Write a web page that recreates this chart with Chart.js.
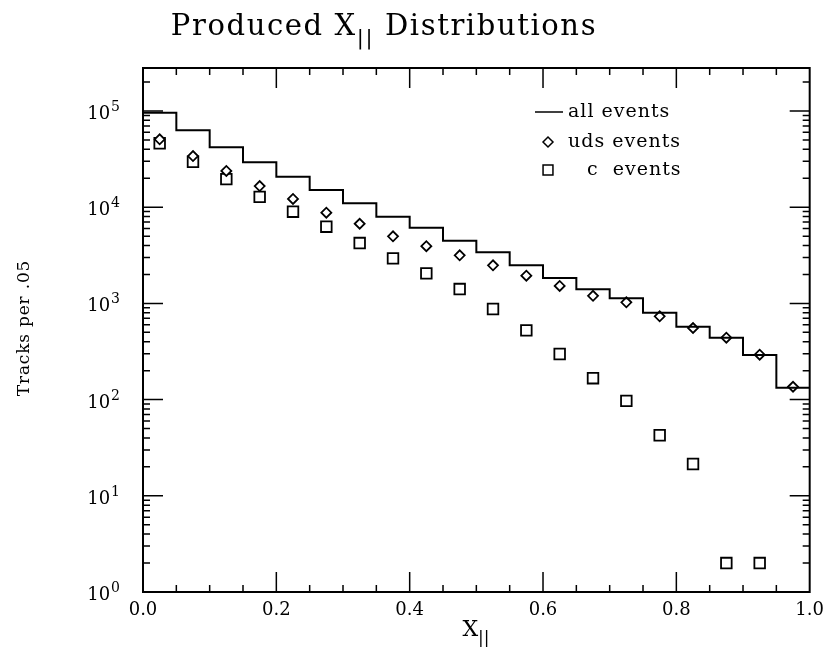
<!DOCTYPE html>
<html>
<head>
<meta charset="utf-8">
<script src="https://cdn.jsdelivr.net/npm/chart.js@4/dist/chart.umd.min.js"></script>
<style>
  html, body { margin: 0; padding: 0; background: #fff; }
  #wrap { width: 832px; height: 654px; }
</style>
</head>
<body>
<div id="wrap"><canvas id="xpar" width="832" height="654"></canvas></div>
<script>
// bin centres of the X|| histogram (bins of width .05)
var binCenters = [0.025, 0.075, 0.125, 0.175, 0.225, 0.275, 0.325, 0.375, 0.425, 0.475,
                  0.525, 0.575, 0.625, 0.675, 0.725, 0.775, 0.825, 0.875, 0.925, 0.975];
var binWidth = 0.05;

// all events (histogram)
var allEvents = [96000, 63000, 42000, 29300, 20700, 15100, 11000, 7970, 6120, 4490,
                 3400, 2490, 1840, 1400, 1130, 800, 572, 440, 291, 133];
// uds events (diamonds)
var udsEvents = [50800, 34000, 23800, 16600, 12200, 8770, 6730, 4980, 3930, 3160,
                 2490, 1940, 1520, 1200, 1026, 734, 555, 440, 293, 136];
// c events (squares)
var cEvents = [46200, 29700, 19600, 12800, 8980, 6270, 4240, 2940, 2050, 1410,
               875, 525, 298, 167, 97, 42.6, 21.4, 2.0, 2.0, null];

var xTickLabels = ['0.0', '0.2', '0.4', '0.6', '0.8', '1.0'];
var yDecades = [0, 1, 2, 3, 4, 5];
var legendLabels = ['all events', 'uds events', 'c  events'];

var serif = '"DejaVu Serif", "Liberation Serif", serif';

// histogram drawn as steps starting at the lower bin edge
var histPoints = binCenters.map(function (x, i) {
    return { x: x - binWidth / 2, y: allEvents[i] };
});
histPoints.push({ x: binCenters[binCenters.length - 1] + binWidth / 2, y: allEvents[allEvents.length - 1] });

var udsPoints = binCenters.map(function (x, i) { return { x: x, y: udsEvents[i] }; });
var cPoints = binCenters.map(function (x, i) { return { x: x, y: cEvents[i] }; });

// frame, inward ticks, y labels, titles and legend
var decorations = {
    id: 'decorations',
    afterDraw: function (chart) {
        var ctx = chart.ctx;
        var a = chart.chartArea;
        var xs = chart.scales.x;
        var ys = chart.scales.y;
        ctx.save();
        ctx.strokeStyle = '#000';
        ctx.fillStyle = '#000';
        ctx.lineWidth = 2;
        ctx.strokeRect(a.left, a.top, a.right - a.left, a.bottom - a.top);

        // x ticks every .05, long ones every .2
        ctx.lineWidth = 1.5;
        for (var i = 1; i < 20; i++) {
            var px = xs.getPixelForValue(i * 0.05);
            var len = (i % 4 === 0) ? 20 : 7;
            ctx.beginPath();
            ctx.moveTo(px, a.bottom); ctx.lineTo(px, a.bottom - len);
            ctx.moveTo(px, a.top); ctx.lineTo(px, a.top + len);
            ctx.stroke();
        }
        // y ticks 1..9 per decade
        yDecades.forEach(function (d) {
            for (var m = 1; m <= 9; m++) {
                var v = m * Math.pow(10, d);
                if (v <= ys.min || v >= ys.max) continue;
                var py = ys.getPixelForValue(v);
                var len = (m === 1) ? 20 : 7;
                ctx.beginPath();
                ctx.moveTo(a.left, py); ctx.lineTo(a.left + len, py);
                ctx.moveTo(a.right, py); ctx.lineTo(a.right - len, py);
                ctx.stroke();
            }
        });

        // y labels 10^n
        ctx.textAlign = 'right';
        ctx.textBaseline = 'alphabetic';
        yDecades.forEach(function (d) {
            var py = ys.getPixelForValue(Math.pow(10, d));
            ctx.font = '14px ' + serif;
            var e = String(d);
            var ew = ctx.measureText(e).width;
            ctx.fillText(e, 120, py);
            ctx.font = '18px ' + serif;
            ctx.fillText('10', 119 - ew, py + 8);
        });

        // text with a subscript part
        function drawSub(parts, x, y, big, small, spacing) {
            ctx.letterSpacing = spacing + 'px';
            var w = 0;
            parts.forEach(function (p) {
                ctx.font = (p.sub ? small : big) + 'px ' + serif;
                w += ctx.measureText(p.t).width;
            });
            var cx = x - w / 2;
            ctx.textAlign = 'left';
            parts.forEach(function (p) {
                ctx.font = (p.sub ? small : big) + 'px ' + serif;
                ctx.fillText(p.t, cx, y + (p.sub ? big * 0.3 : 0));
                cx += ctx.measureText(p.t).width;
            });
            ctx.letterSpacing = '0px';
        }
        drawSub([{ t: 'Produced X' }, { t: '||', sub: true }, { t: ' Distributions' }], 384, 35, 29, 21, 1.6);
        drawSub([{ t: 'X' }, { t: '||', sub: true }], 476, 636, 22, 17, 0);

        // y axis title
        ctx.save();
        ctx.translate(25, 328);
        ctx.rotate(-Math.PI / 2);
        ctx.font = '17px ' + serif;
        ctx.letterSpacing = '0.8px';
        ctx.textAlign = 'center';
        ctx.textBaseline = 'middle';
        ctx.fillText('Tracks per .05', 0, 0);
        ctx.restore();

        // legend
        ctx.font = '19px ' + serif;
        ctx.letterSpacing = '1px';
        ctx.textAlign = 'left';
        ctx.textBaseline = 'middle';
        ctx.lineWidth = 1.5;
        ctx.beginPath();
        ctx.moveTo(535, 112); ctx.lineTo(563, 112);
        ctx.stroke();
        ctx.fillText(legendLabels[0], 568, 112);
        ctx.fillStyle = '#fff';
        Chart.helpers.drawPoint(ctx, { pointStyle: 'rectRot', radius: 5, borderWidth: 1.8 }, 548, 142);
        Chart.helpers.drawPoint(ctx, { pointStyle: 'rect', radius: 7, borderWidth: 1.8 }, 548, 170);
        ctx.fillStyle = '#000';
        ctx.fillText(legendLabels[1], 568, 142);
        ctx.fillText(legendLabels[2], 587, 170);
        ctx.restore();
    }
};

var ctx = document.getElementById('xpar').getContext('2d');
var chart = new Chart(ctx, {
    type: 'line',
    data: {
        datasets: [{
            label: legendLabels[0],
            data: histPoints,
            stepped: 'before',
            borderColor: '#000',
            borderWidth: 2,
            pointRadius: 0,
            fill: false
        }, {
            label: legendLabels[1],
            data: udsPoints,
            showLine: false,
            pointStyle: 'rectRot',
            pointRadius: 5,
            pointBorderWidth: 1.8,
            pointBorderColor: '#000',
            pointBackgroundColor: '#fff'
        }, {
            label: legendLabels[2],
            data: cPoints,
            showLine: false,
            pointStyle: 'rect',
            pointRadius: 7.5,
            pointBorderWidth: 1.8,
            pointBorderColor: '#000',
            pointBackgroundColor: '#fff'
        }]
    },
    options: {
        responsive: false,
        animation: false,
        devicePixelRatio: 1,
        layout: { padding: { left: 0, right: 14, top: 68, bottom: 0 } },
        plugins: {
            legend: { display: false },
            title: { display: false },
            tooltip: { enabled: false }
        },
        scales: {
            x: {
                type: 'linear',
                min: 0,
                max: 1,
                grid: { display: false, drawTicks: false },
                border: { display: false },
                ticks: {
                    stepSize: 0.2,
                    padding: 8,
                    color: '#000',
                    font: { family: serif, size: 18 },
                    callback: function (v, i) { return xTickLabels[i]; }
                },
                afterFit: function (s) { s.height = 62; }
            },
            y: {
                type: 'logarithmic',
                min: 1,
                max: 2.8e5,
                grid: { display: false, drawTicks: false },
                border: { display: false },
                ticks: { display: false },
                afterFit: function (s) { s.width = 143; }
            }
        }
    },
    plugins: [decorations]
});
</script>
</body>
</html>
